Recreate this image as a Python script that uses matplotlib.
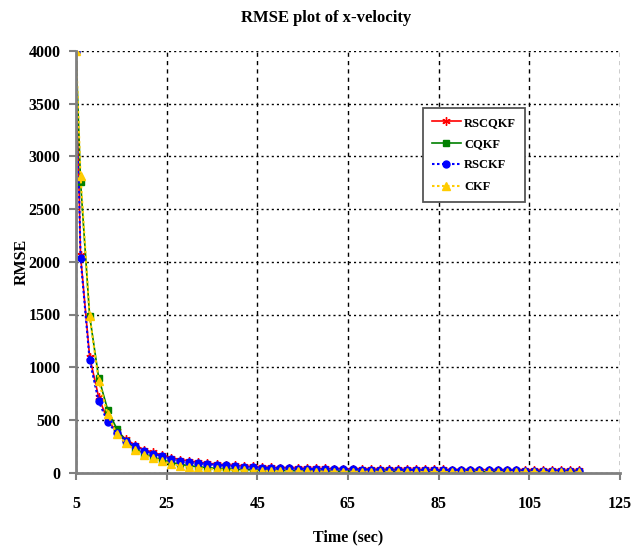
import matplotlib
matplotlib.use("Agg")
from matplotlib import pyplot as plt

# sample times (sec)
time_s = [5] + list(range(6, 117, 2))

rscqkf = [4000, 2060, 1100, 715, 495, 392, 318, 262, 218, 192, 168, 142, 124,
          109, 98, 89, 81, 75, 69, 63, 58, 54, 50, 47, 45, 43, 41, 40, 39, 38,
          37, 36, 35, 34, 33, 33, 32, 32, 31, 31, 30, 30, 29, 29, 28, 28, 27,
          27, 26, 26, 25, 25, 24, 24, 23, 23, 23]
cqkf = [4000, 2760, 1490, 900, 594, 415, 300, 228, 180, 146, 120, 96, 78, 65,
        55, 47, 41, 36, 32, 29, 26, 24, 22, 20, 19, 18, 17, 16, 15, 14, 13, 13,
        12, 12, 11, 11, 10, 10, 10, 9, 9, 9, 8, 8, 8, 8, 7, 7, 7, 7, 6, 6, 6,
        6, 6, 5, 5]
rsckf = [4000, 2040, 1070, 675, 480, 373, 303, 248, 206, 180, 157, 131, 114,
         100, 90, 81, 74, 68, 62, 56, 51, 47, 44, 41, 39, 37, 35, 34, 33, 32,
         31, 30, 29, 28, 27, 27, 26, 26, 25, 25, 24, 24, 23, 23, 22, 22, 21,
         21, 20, 20, 19, 19, 18, 18, 17, 17, 17]
ckf = [4000, 2815, 1485, 872, 552, 366, 278, 214, 168, 136, 110, 84, 65, 52,
       42, 35, 30, 26, 23, 20, 18, 16, 15, 14, 13, 12, 11, 10, 10, 9, 9, 8, 8,
       8, 7, 7, 7, 6, 6, 6, 6, 5, 5, 5, 5, 5, 4, 4, 4, 4, 4, 4, 3, 3, 3, 3, 3]

x_ticks = [5, 25, 45, 65, 85, 105, 125]
y_ticks = [0, 500, 1000, 1500, 2000, 2500, 3000, 3500, 4000]

plt.rcParams['font.family'] = ['Liberation Serif', 'DejaVu Serif']
plt.rcParams['font.weight'] = 'bold'

fig = plt.figure(figsize=(6.31, 5.47), dpi=100)
ax = fig.add_axes([76 / 631, 1 - 472.6 / 547, 544 / 631, 421.6 / 547])

ax.plot(time_s, rscqkf, color='red', lw=1.2, marker=(6, 2, 0), ms=6,
        mew=1.0, mec='red', label='RSCQKF')
ax.plot(time_s, cqkf, color='green', lw=1.2, marker='s', ms=4,
        mec='green', mfc='green', label='CQKF')
ax.plot(time_s, rsckf, color='blue', lw=1.5, ls=(0, (1.2, 1.2)), marker='o',
        ms=5, mec='blue', mfc='blue', label='RSCKF')
ax.plot(time_s, ckf, color='#ffcc00', lw=1.5, ls=(0, (1.2, 1.2)), marker='^',
        ms=6, mec='#ffcc00', mfc='#ffcc00', label='CKF')

ax.set_xlim(5, 125)
ax.set_ylim(0, 4000)
ax.set_xticks(x_ticks)
ax.set_yticks(y_ticks)
ax.tick_params(labelsize=11.5, colors='#808080', width=1.5, length=5,
               direction='out', pad=6)
for lab in ax.get_xticklabels() + ax.get_yticklabels():
    lab.set_color('black')
    lab.set_fontweight('bold')
ax.tick_params(axis='x', pad=12)

ax.yaxis.grid(True, color='black', ls=(0, (1.5, 2.2)), lw=1.0)
ax.xaxis.grid(True, color='black', ls=(0, (3, 3)), lw=1.0)
ax.set_axisbelow(True)

for side in ('top', 'right'):
    ax.spines[side].set_visible(False)
for side in ('left', 'bottom'):
    ax.spines[side].set_color('#808080')
    ax.spines[side].set_linewidth(2)

fig.text(326 / 631, 1 - 18 / 547, 'RMSE plot of x-velocity', ha='center',
         va='center', fontsize=12, fontweight='bold')
fig.text(348 / 631, 1 - 537 / 547, 'Time (sec)', ha='center', va='center',
         fontsize=11.5, fontweight='bold')
fig.text(22 / 631, 1 - 262 / 547, 'RMSE', ha='center', va='center',
         rotation=90, fontsize=11.5, fontweight='bold')

leg = ax.legend(loc='upper left', bbox_to_anchor=((423 - 76) / 544,
                (472.6 - 108) / 421.6), fontsize=9, frameon=True,
                fancybox=False, edgecolor='#555555', framealpha=1,
                handlelength=2.3, labelspacing=0.75, borderpad=0.7,
                handletextpad=0.3, borderaxespad=0)
leg.get_frame().set_linewidth(1.3)
for t in leg.get_texts():
    t.set_fontweight('bold')

fig.savefig('out.png', dpi=100)
